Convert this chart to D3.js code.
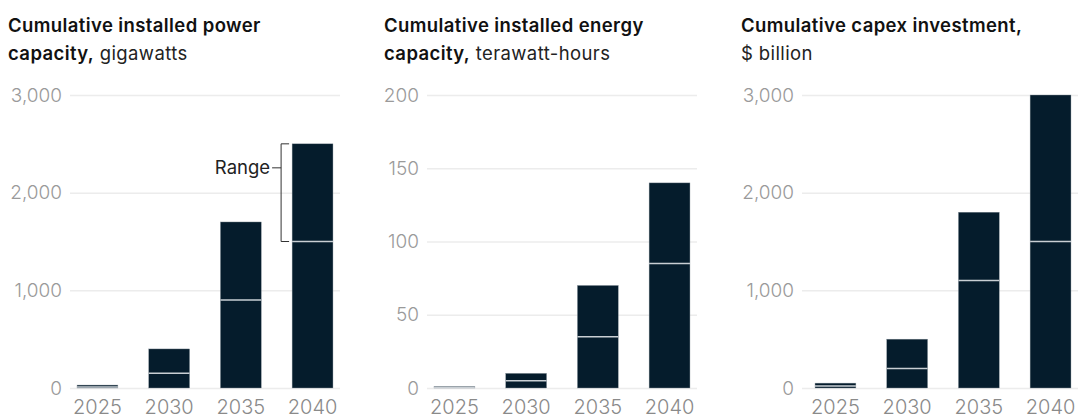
<!DOCTYPE html>
<html>
<head>
<meta charset="utf-8">
<script src="https://cdn.jsdelivr.net/npm/d3@7"></script>
<style>
  body { margin: 0; background: #fff; }
  svg { display: block; font-family: Inter, "Noto Sans", sans-serif; }
</style>
</head>
<body>
<div id="chart"></div>
<script>
// data
const years = ['2025', '2030', '2035', '2040']

const powerLow = [10, 150, 900, 1500]
const powerHigh = [30, 400, 1700, 2500]
const powerTicks = [0, 1000, 2000, 3000]

const energyLow = [0.4, 5, 35, 85]
const energyHigh = [1, 10, 70, 140]
const energyTicks = [0, 50, 100, 150, 200]

const capexLow = [20, 200, 1100, 1500]
const capexHigh = [50, 500, 1800, 3000]
const capexTicks = [0, 1000, 2000, 3000]

// svg setup
const svgWidth = 1079
const svgHeight = 419
const svg = d3.select('#chart').append('svg')
    .attr('width', svgWidth)
    .attr('height', svgHeight)

const barColor = '#051c2c'
const yTop = 95
const yBottom = 388

const panels = [
    { title1: 'Cumulative installed power', bold2: 'capacity,', rest2: ' gigawatts',
      low: powerLow, high: powerHigh, ticks: powerTicks, max: 3000,
      titleX: 8, gridX: 70, bandX: 70, range: true },
    { title1: 'Cumulative installed energy', bold2: 'capacity,', rest2: ' terawatt-hours',
      low: energyLow, high: energyHigh, ticks: energyTicks, max: 200,
      titleX: 384, gridX: 427, bandX: 427 },
    { title1: 'Cumulative capex investment,', bold2: '', rest2: '$ billion',
      low: capexLow, high: capexHigh, ticks: capexTicks, max: 3000,
      titleX: 741, gridX: 802, bandX: 808 }
]

const bandWidth = 270

panels.forEach(p => {
    const g = svg.append('g')

    // title
    g.append('text')
        .attr('x', p.titleX).attr('y', 32)
        .attr('font-size', 18.5).attr('font-weight', 600).attr('fill', '#111')
        .attr('letter-spacing', 0.4)
        .text(p.title1)
    const t2 = g.append('text')
        .attr('x', p.titleX).attr('y', 60)
        .attr('font-size', 18.5).attr('fill', '#222')
        .attr('letter-spacing', 0.4)
    if (p.bold2) t2.append('tspan').attr('font-weight', 600).attr('fill', '#111').text(p.bold2)
    t2.append('tspan').attr('font-weight', 400).text(p.rest2)

    // scales
    const x = d3.scaleBand()
        .domain(years)
        .range([p.bandX, p.bandX + bandWidth])
        .paddingInner(0.43)
        .paddingOuter(0.098)

    const y = d3.scaleLinear()
        .domain([0, p.max])
        .range([yBottom, yTop])

    // y axis with gridlines
    const gridRight = p.bandX + bandWidth
    const yAxis = d3.axisLeft(y)
        .tickValues(p.ticks)
        .tickFormat(d3.format(','))
        .tickSize(-(gridRight - p.gridX))
        .tickPadding(8)
    const ya = g.append('g')
        .attr('transform', 'translate(' + p.gridX + ',0)')
        .call(yAxis)
    ya.select('.domain').remove()
    ya.selectAll('.tick line').attr('stroke', '#ececec').attr('stroke-width', 1.5)
    ya.selectAll('.tick text')
        .attr('fill', '#9a9a9a')
        .attr('font-size', 19)
        .attr('font-weight', 300)
        .attr('font-family', 'Inter, sans-serif')

    // x axis labels
    const xa = g.append('g')
        .attr('transform', 'translate(0,' + yBottom + ')')
        .call(d3.axisBottom(x).tickSize(0).tickPadding(12))
    xa.select('.domain').remove()
    xa.selectAll('.tick text')
        .attr('fill', '#8a8a8a')
        .attr('font-size', 20)
        .attr('font-weight', 300)
        .attr('font-family', 'Inter, sans-serif')

    // bars
    const rows = years.map((yr, i) => ({ year: yr, low: p.low[i], high: p.high[i] }))
    g.selectAll('.bar')
        .data(rows)
        .join('rect')
        .attr('class', 'bar')
        .attr('x', d => x(d.year))
        .attr('width', x.bandwidth())
        .attr('y', d => y(d.high))
        .attr('height', d => y(0) - y(d.high))
        .attr('fill', barColor)
        .attr('stroke', '#8c969e')
        .attr('stroke-width', 0.4)

    // divider at the low end of the range
    g.selectAll('.mid')
        .data(rows)
        .join('line')
        .attr('class', 'mid')
        .attr('x1', d => x(d.year))
        .attr('x2', d => x(d.year) + x.bandwidth())
        .attr('y1', d => y(d.low))
        .attr('y2', d => y(d.low))
        .attr('stroke', '#c9cfd4')
        .attr('stroke-width', 1.5)

    // range annotation
    if (p.range) {
        const last = rows[rows.length - 1]
        const bx = x(last.year) - 11
        const yHi = y(last.high)
        const yLo = y(last.low)
        const br = g.append('g').attr('fill', 'none').attr('stroke', '#333').attr('stroke-width', 1)
        br.append('path')
            .attr('d', 'M' + (bx + 8) + ',' + yHi + 'H' + bx + 'V' + yLo + 'H' + (bx + 8))
        const ly = yHi + 24
        br.append('line').attr('x1', bx - 9).attr('x2', bx).attr('y1', ly).attr('y2', ly)
        g.append('text')
            .attr('x', bx - 11).attr('y', ly)
            .attr('dy', '0.35em')
            .attr('text-anchor', 'end')
            .attr('font-size', 18.5).attr('fill', '#222')
            .text('Range')
    }
})
</script>
</body>
</html>
